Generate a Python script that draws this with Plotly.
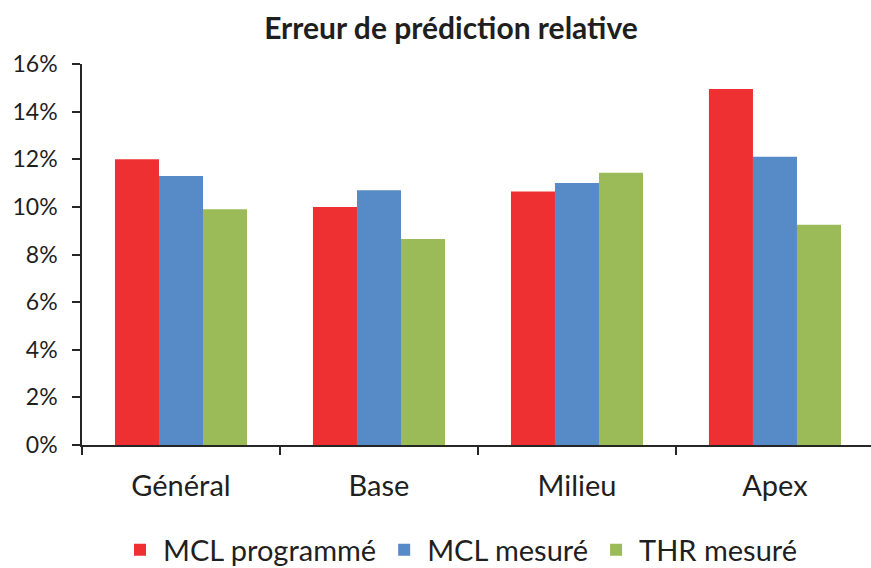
import plotly.graph_objects as go

categories = ["Général", "Base", "Milieu", "Apex"]
mcl_programme = [12.0, 10.0, 10.65, 14.95]
mcl_mesure = [11.3, 10.7, 11.0, 12.1]
thr_mesure = [9.9, 8.65, 11.43, 9.25]
y_ticks = [0, 2, 4, 6, 8, 10, 12, 14, 16]
y_tick_labels = [f"{v}%" for v in y_ticks]

series = [
    ("MCL programmé", mcl_programme, "#EE3033"),
    ("MCL mesuré", mcl_mesure, "#578BC7"),
    ("THR mesuré", thr_mesure, "#9BBB59"),
]

fig = go.Figure()
for name, vals, color in series:
    fig.add_trace(go.Bar(x=categories, y=vals, name=name, marker_color=color,
                         marker_line_width=0))

font = "Lato, Open Sans, sans-serif"
fig.update_layout(
    width=871, height=568,
    margin=dict(l=82, r=0, t=64, b=123, autoexpand=False),
    paper_bgcolor="white", plot_bgcolor="white",
    barmode="group", bargap=0.333, bargroupgap=0,
    font=dict(family=font, color="#1f1f1f"),
    title=dict(text="<b>Erreur de prédiction relative</b>", x=451 / 871, xanchor="center",
               xref="container", yref="container",
               y=1 - 28 / 568, yanchor="middle", font=dict(size=30, color="#1f1f1f")),
    showlegend=True,
    legend=dict(orientation="h", x=460 / 871, xanchor="center", xref="container",
                yref="container", y=(568 - 550) / 568, yanchor="middle",
                font=dict(size=29, color="#1f1f1f"), traceorder="normal",
                itemwidth=36),
)
fig.update_xaxes(
    type="category", range=[-0.5, 3.485], automargin=False,
    showline=True, linecolor="#262626", linewidth=1.5,
    ticks="outside", tickson="boundaries", ticklen=8, tickcolor="#262626", tickwidth=1.5,
    ticklabelstandoff=14,
    tickfont=dict(size=29, color="#1f1f1f"), showgrid=False,
)
fig.update_yaxes(
    range=[0, 16], tickvals=y_ticks, ticktext=y_tick_labels, automargin=False,
    showline=True, linecolor="#262626", linewidth=1.5,
    ticks="outside", ticklen=8, tickcolor="#262626", tickwidth=1.5,
    ticklabelstandoff=10,
    tickfont=dict(size=23, color="#1f1f1f"), showgrid=False, zeroline=False,
)

fig.write_html("out.html", config={"displayModeBar": False},
               post_script="document.body.style.margin='0';document.body.style.overflow='hidden';")
